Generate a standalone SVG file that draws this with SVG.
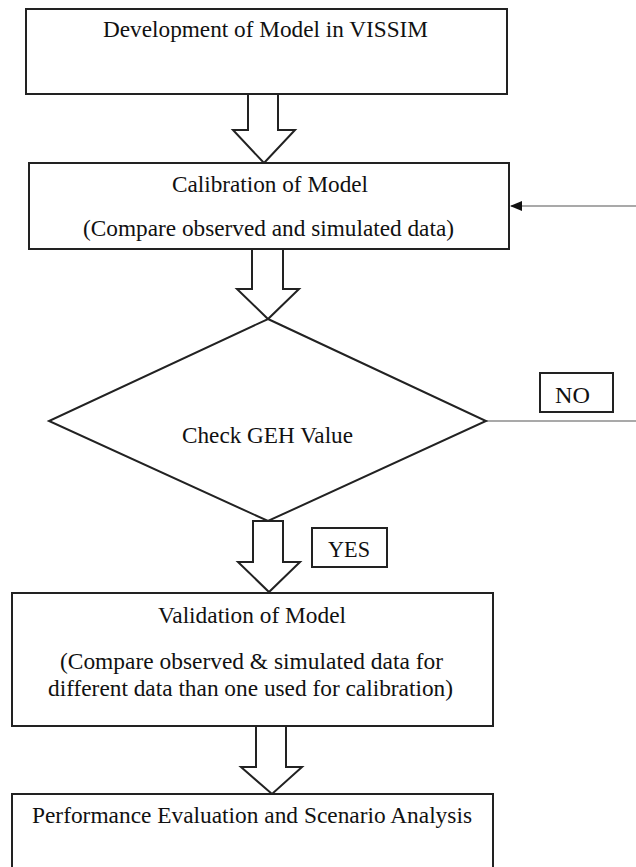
<svg xmlns="http://www.w3.org/2000/svg" width="636" height="867" viewBox="0 0 636 867">
<style>
.box{fill:#fff;stroke:#222;stroke-width:2}
.arr{fill:#fff;stroke:#222;stroke-width:2;stroke-linejoin:miter}
.ln{fill:none;stroke:#555;stroke-width:1.2}
text{font-family:"Liberation Serif","Times New Roman",serif;font-size:23px;fill:#111;text-anchor:middle}
</style>
<defs>
<marker id="ah" markerWidth="12" markerHeight="10" refX="11" refY="5" orient="auto" markerUnits="userSpaceOnUse">
<path d="M0,0 L12,5 L0,10 Z" fill="#111"/>
</marker>
</defs>
<rect width="636" height="867" fill="#fff"/>
<g id="connectors">
<path class="arr" d="M248,94 L278,94 L278,130 L295,130 L264,163 L233,130 L248,130 Z"/>
<path class="arr" d="M252,249 L283,249 L283,289 L299,289 L268,319 L237,289 L252,289 Z"/>
<path class="arr" d="M253,521 L283,521 L283,562 L300,562 L269,592 L238,562 L253,562 Z"/>
<path class="arr" d="M256,726 L286,726 L286,767 L302,767 L272,794 L241,767 L256,767 Z"/>
<line class="ln" x1="486" y1="421" x2="636" y2="421"/>
<line class="ln" x1="636" y1="206" x2="511" y2="206" marker-end="url(#ah)"/>
</g>
<g id="n1">
<rect class="box" x="26" y="9" width="481" height="85"/>
<text x="265.5" y="37" textLength="325" lengthAdjust="spacingAndGlyphs">Development of Model in VISSIM</text>
</g>
<g id="n2">
<rect class="box" x="29" y="163" width="480" height="86"/>
<text x="270" y="192" textLength="196" lengthAdjust="spacingAndGlyphs">Calibration of Model</text>
<text x="268.5" y="236" textLength="371" lengthAdjust="spacingAndGlyphs">(Compare observed and simulated data)</text>
</g>
<g id="n3">
<path class="box" d="M268,319 L486,421 L268,521 L49,421 Z"/>
<text x="267.5" y="443" textLength="171" lengthAdjust="spacingAndGlyphs">Check GEH Value</text>
</g>
<g id="no">
<rect class="box" x="540" y="373" width="73" height="39"/>
<text x="572.5" y="403" textLength="35" lengthAdjust="spacingAndGlyphs">NO</text>
</g>
<g id="yes">
<rect class="box" x="312" y="528" width="75" height="39"/>
<text x="349" y="557" textLength="42" lengthAdjust="spacingAndGlyphs">YES</text>
</g>
<g id="n4">
<rect class="box" x="12" y="593" width="481" height="133"/>
<text x="252" y="623" textLength="188" lengthAdjust="spacingAndGlyphs">Validation of Model</text>
<text x="251.5" y="669" textLength="383" lengthAdjust="spacingAndGlyphs">(Compare observed &amp; simulated data for</text>
<text x="250.5" y="696" textLength="405" lengthAdjust="spacingAndGlyphs">different data than one used for calibration)</text>
</g>
<g id="n5">
<rect class="box" x="12" y="794" width="481" height="86"/>
<text x="252" y="823" textLength="440" lengthAdjust="spacingAndGlyphs">Performance Evaluation and Scenario Analysis</text>
</g>
</svg>
